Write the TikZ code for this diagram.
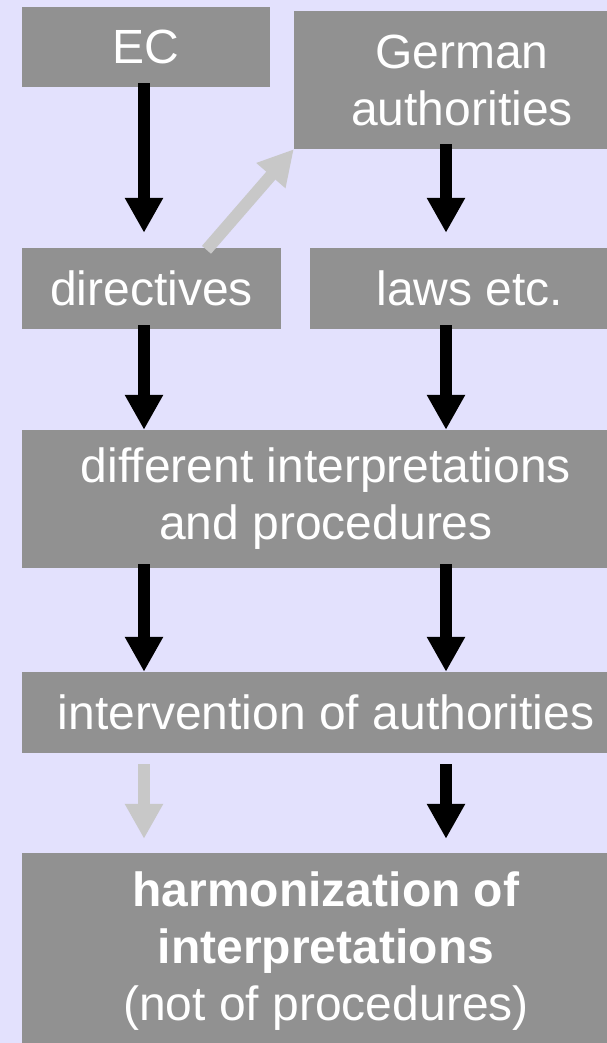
\documentclass[tikz,border=0pt]{standalone}
\usepackage{fontspec}
\setmainfont{Liberation Sans}
\usetikzlibrary{arrows.meta,calc}
\definecolor{bgcol}{RGB}{227,225,253}
\definecolor{boxcol}{RGB}{145,145,145}
\definecolor{lightarr}{RGB}{200,200,200}
\tikzset{
    box/.style={fill=boxcol,text=white,inner sep=0pt,align=center,font=\fontsize{48}{57}\selectfont},
    arr/.style={line width=12pt,-{Triangle[width=36pt,length=35pt]}}
}

\begin{document}
\begin{tikzpicture}[x=1pt,y=-1pt]
            \useasboundingbox (0,0) rectangle (607,1043);
            \clip (0,0) rectangle (607,1043);
            \fill[bgcol] (0,0) rectangle (607,1043);
            % boxes
            \node[box,minimum width=248pt,minimum height=80pt] (ec) at (146,47) {EC};
            \node[box,minimum width=336pt,minimum height=138pt] (ger) at (462,80) {German\\authorities};
            \node[box,minimum width=259pt,minimum height=81pt] (dir) at (151.5,288.5) {directives};
            \node[box,minimum width=320pt,minimum height=81pt] (laws) at (470,288.5) {laws etc.};
            \node[box,minimum width=608pt,minimum height=138pt] (diff) at (326,499) {different interpretations\\and procedures};
            \node[box,minimum width=608pt,minimum height=81pt] (interv) at (326,712.5) {intervention of authorities};
            \node[box,minimum width=608pt,minimum height=197pt] (harm) at (326,951.5) {\textbf{harmonization of}\\\textbf{interpretations}\\(not of procedures)};
            % arrows
            \coordinate (cl) at (144,0);
            \coordinate (cr) at (446,0);
            \draw[arr,shorten <=-4pt,shorten >=15pt] (ec.south -| cl)--(dir.north -| cl);
            \draw[arr,shorten <=-5pt,shorten >=15pt] (ger.south -| cr)--(laws.north -| cr);
            \draw[arr,lightarr] ($(dir.north)+(55,2)$)--(ger.south west);
            \foreach \a/\b in {dir/diff,diff/interv}{
                \draw[arr,shorten <=-4pt] (\a.south -| cl)--(\b.north -| cl);
                \draw[arr,shorten <=-4pt] (\a.south -| cr)--(\b.north -| cr);
            }
            \draw[arr,lightarr,shorten <=11pt,shorten >=14pt] (interv.south -| cl)--(harm.north -| cl);
            \draw[arr,shorten <=11pt,shorten >=14pt] (interv.south -| cr)--(harm.north -| cr);
        \end{tikzpicture}
\end{document}
